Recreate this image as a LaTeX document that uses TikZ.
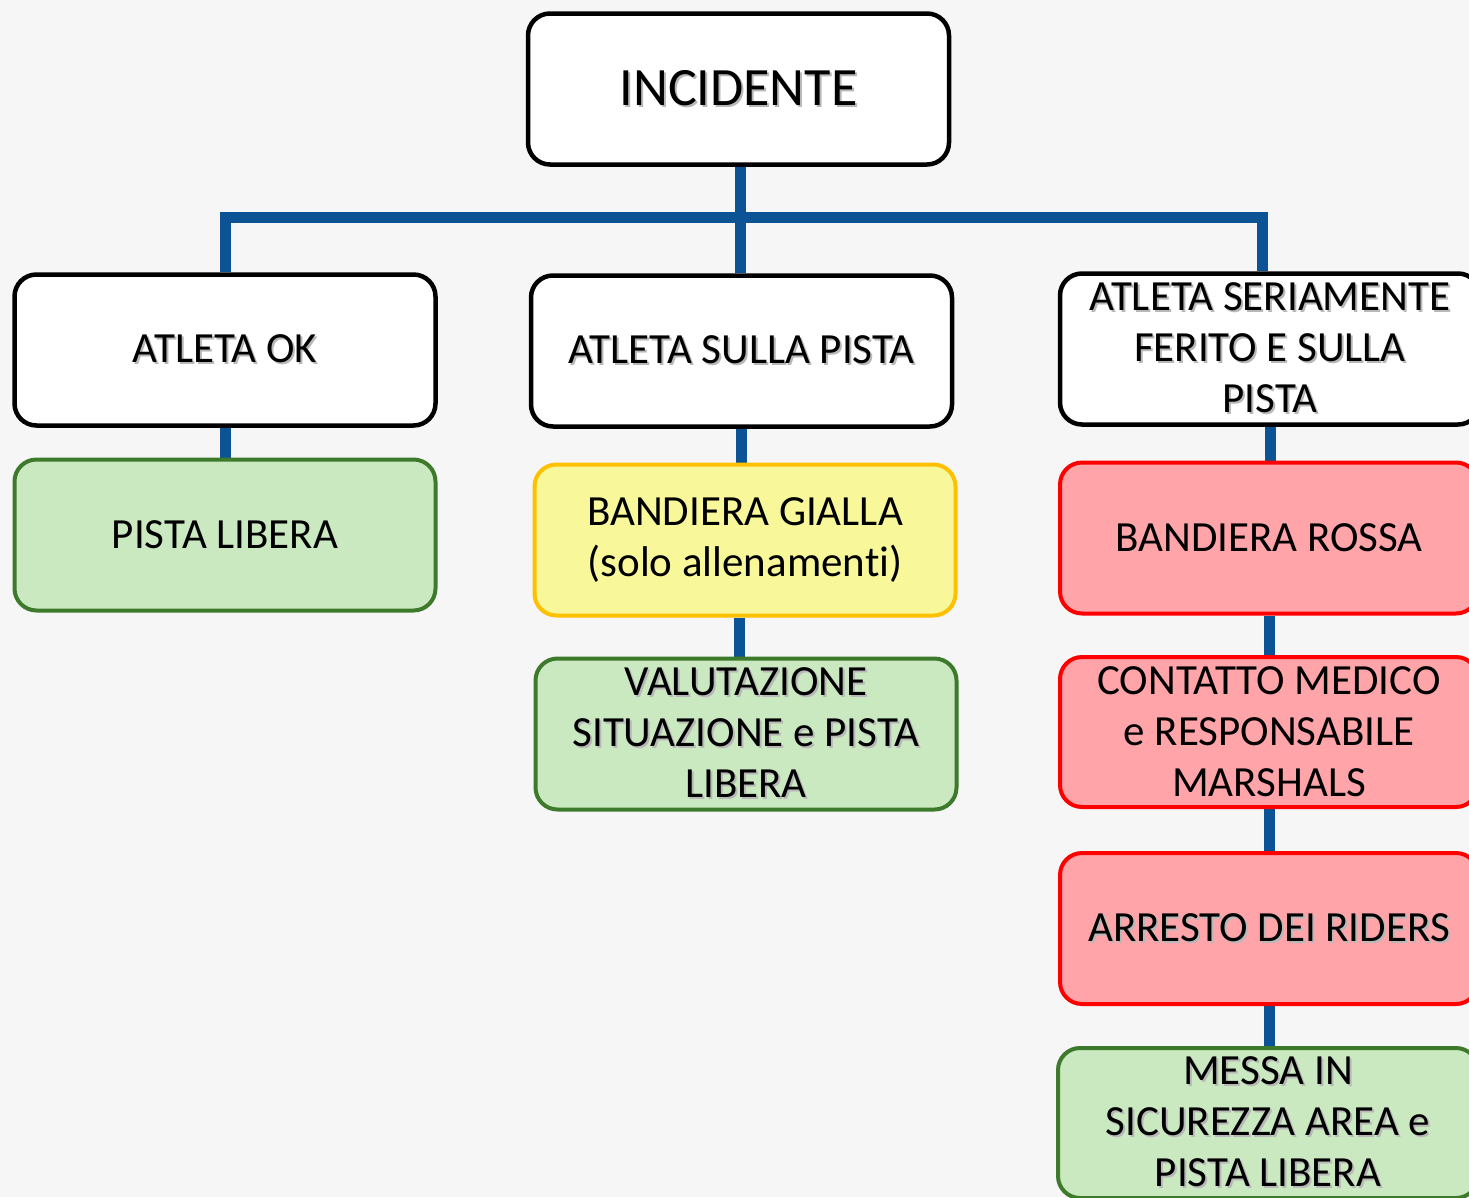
\documentclass[tikz,border=0pt]{standalone}
\usepackage{fontspec}
\setmainfont{Carlito}[Ligatures=NoCommon]
\usetikzlibrary{backgrounds}
\definecolor{bg}{HTML}{F6F6F6}
\definecolor{conncol}{HTML}{0B5394}
\definecolor{greenfill}{HTML}{CBE9C1}
\definecolor{greendraw}{HTML}{3D7A2B}
\definecolor{yellowfill}{HTML}{F8F89A}
\definecolor{yellowdraw}{HTML}{FFC000}
\definecolor{redfill}{HTML}{FFA5AA}
\definecolor{reddraw}{HTML}{FF0000}
\newcommand\shd[1]{\makebox[0pt][l]{\kern2pt\raisebox{-2pt}{\color{black!28}#1}}#1}
\tikzset{
  box/.style={rounded corners=22pt, minimum width=421pt, minimum height=151pt,
    inner sep=0pt, align=center, font=\fontsize{43}{51}\selectfont, text=black},
  whitebox/.style={box, draw=black, line width=4.5pt, fill=white},
  greenbox/.style={box, draw=greendraw, line width=4pt, fill=greenfill},
  yellowbox/.style={box, draw=yellowdraw, line width=4pt, fill=yellowfill},
  redbox/.style={box, draw=reddraw, line width=4pt, fill=redfill},
  conn/.style={draw=conncol, line width=11pt, line join=miter},
}
\begin{document}
\begin{tikzpicture}[x=1pt,y=-1pt]
\useasboundingbox (0,0) rectangle (1469,1197);
\clip (0,0) rectangle (1469,1197);

\coordinate (hl) at (225,217);
\coordinate (hr) at (1262,217);
\coordinate (hc) at (740,217);

% nodes
\node[whitebox, font=\fontsize{54}{60}\selectfont] (inc) at (738.5,89) {\shd{INCIDENTE}};
\node[whitebox] (ok) at (225,350) {\shd{ATLETA OK}};
\node[whitebox] (sulla) at (741.5,351) {\shd{ATLETA SULLA PISTA}};
\node[whitebox, minimum width=420pt] (ser) at (1270,349) {\shd{ATLETA SERIAMENTE}\\\shd{FERITO E SULLA}\\\shd{PISTA}};
\node[greenbox] (pl) at (225,535) {PISTA LIBERA};
\node[yellowbox] (gialla) at (745,540) {BANDIERA GIALLA\\(solo allenamenti)};
\node[greenbox] (val) at (746,734) {\shd{VALUTAZIONE}\\\shd{SITUAZIONE e PISTA}\\\shd{LIBERA}};
\node[redbox, minimum width=418pt] (rossa) at (1269,538) {BANDIERA ROSSA};
\node[redbox, minimum width=418pt, minimum height=150pt] (contatto) at (1269,732) {CONTATTO MEDICO\\e RESPONSABILE\\MARSHALS};
\node[redbox, minimum width=418pt] (arresto) at (1269,928.5) {\shd{ARRESTO DEI RIDERS}};
\node[greenbox, minimum width=420pt, minimum height=150pt] (messa) at (1268,1123) {\shd{MESSA IN}\\\shd{SICUREZZA AREA e}\\\shd{PISTA LIBERA}};

\begin{pgfonlayer}{background}
\fill[bg] (0,0) rectangle (1469,1197);
\draw[conn] (inc.south -| hc) -- (hc |- sulla.north);
\draw[conn] (hl |- ok.north) -- (hl) -- (hr) -- (hr |- ser.north);
\draw[conn] (ok.south) -- (ok.south |- pl.north);
\draw[conn] (sulla.south) -- (sulla.south |- gialla.north);
\draw[conn] ([xshift=-6pt]gialla.south) -- ([xshift=-6pt]gialla.south |- val.north);
\draw[conn] (ser.south) -- (ser.south |- rossa.north);
\draw[conn] (rossa.south) -- (rossa.south |- contatto.north);
\draw[conn] (contatto.south) -- (contatto.south |- arresto.north);
\draw[conn] (arresto.south) -- (arresto.south |- messa.north);
\end{pgfonlayer}
\end{tikzpicture}
\end{document}
